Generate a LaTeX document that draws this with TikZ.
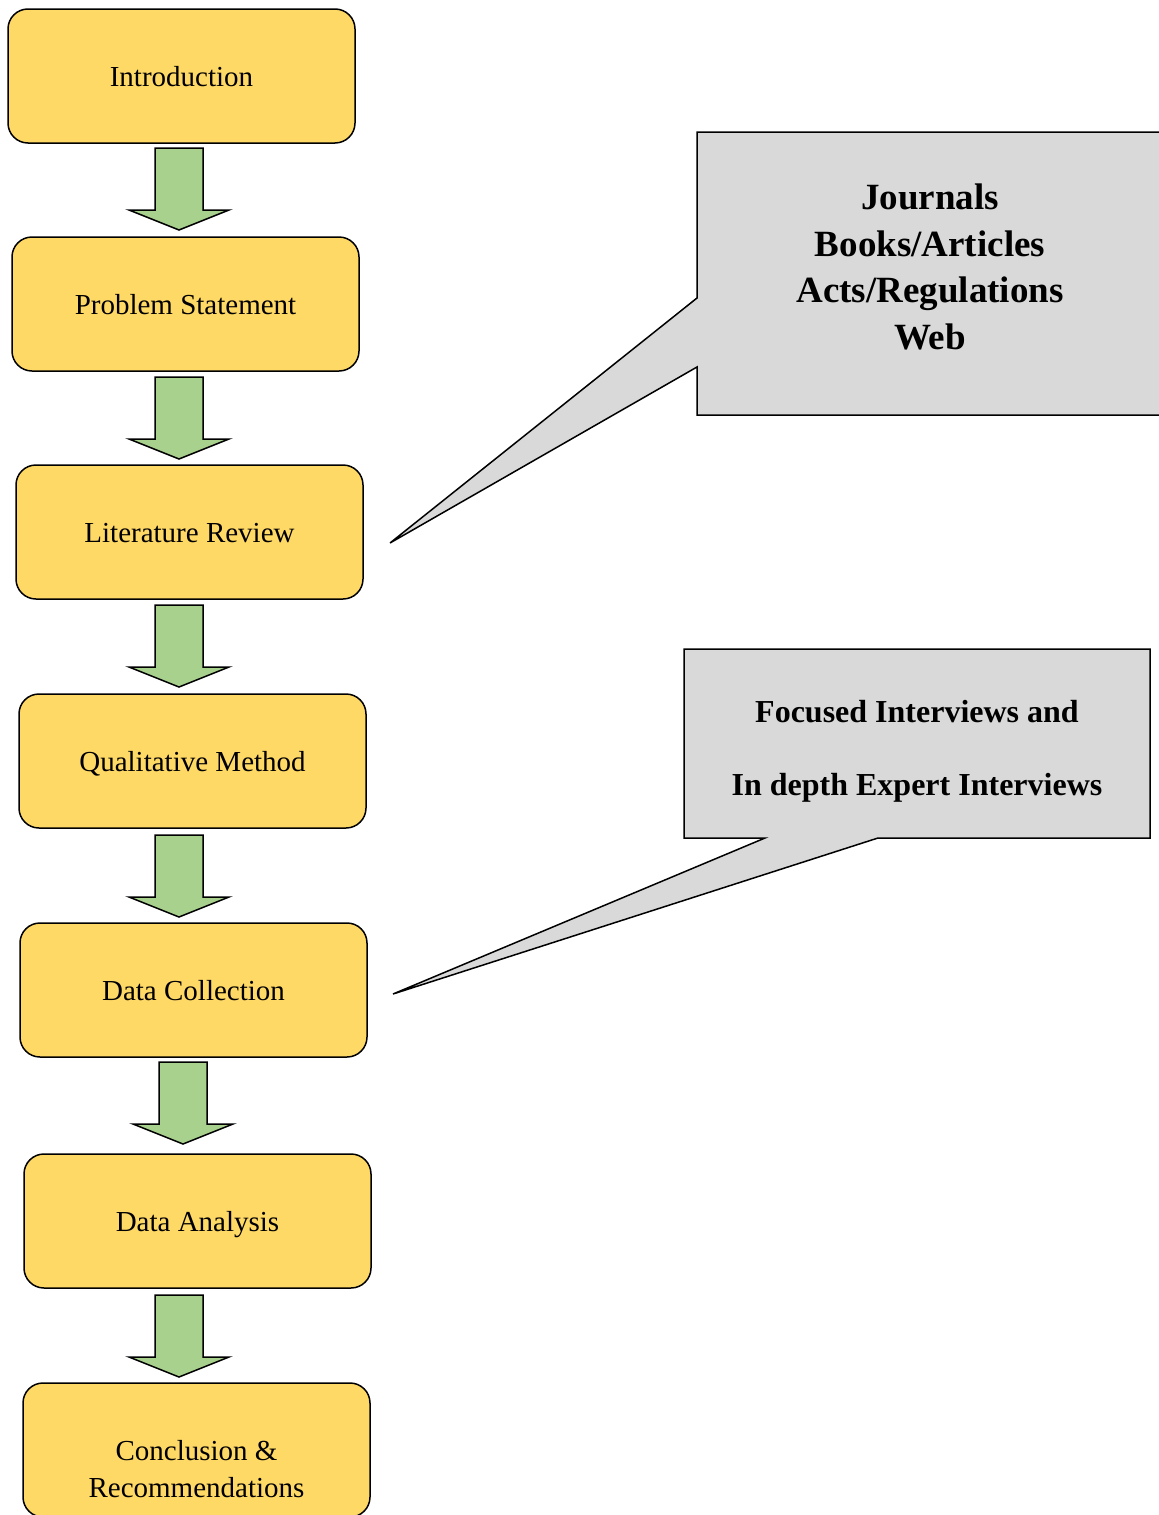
\documentclass[tikz,border=0pt]{standalone}
\usepackage{fontspec}
\setmainfont{Liberation Serif}
\definecolor{boxyellow}{HTML}{FFD966}
\definecolor{arrowgreen}{HTML}{A9D18E}
\definecolor{calloutgray}{HTML}{D9D9D9}
\begin{document}
\begin{tikzpicture}[x=1pt,y=-1pt,
  stepbox/.style={draw, line width=1.5pt, fill=boxyellow, rounded corners=20pt,
    minimum width=347pt, minimum height=134pt, inner sep=0pt,
    text height=20.5pt, text depth=0pt,
    font=\fontsize{29}{37}\selectfont, align=center},
  steptext/.style={inner sep=0pt, font=\fontsize{29}{37}\selectfont, align=center},
  arrowstyle/.style={draw, line width=1.5pt, fill=arrowgreen, line join=miter},
  callout/.style={draw, line width=1.5pt, fill=calloutgray, line join=miter},
  srctext/.style={inner sep=0pt, font=\fontsize{37}{46.5}\selectfont\bfseries, align=center},
  datatext/.style={inner sep=0pt, font=\fontsize{32}{73}\selectfont\bfseries, align=center},
  flowarrow/.pic={\draw[arrowstyle] (-24,0) -- (24,0) -- (24,62) -- (50,62) -- (0,82) -- (-50,62) -- (-24,62) -- cycle;}
]
\useasboundingbox (0,0) rectangle (1159,1515);
\clip (0,0) rectangle (1159,1515);

% steps
\node[stepbox] (intro) at (181.5,76) {Introduction};
\node[stepbox] (prob) at (185.5,304) {Problem Statement};
\node[stepbox] (lit) at (189.5,532) {Literature Review};
\node[stepbox] (qual) at (192.5,761) {Qualitative Method};
\node[stepbox] (coll) at (193.5,990) {Data Collection};
\node[stepbox] (anal) at (197.5,1221) {Data Analysis};
\node[stepbox] (concl) at (196.5,1450) {};
\node[steptext] (concltext) at (196.5,1469) {Conclusion \&\\Recommendations};

% block arrows
\pic (a1) at (179,148) {flowarrow};
\pic (a2) at (179,377) {flowarrow};
\pic (a3) at (179,605) {flowarrow};
\pic (a4) at (179,835) {flowarrow};
\pic (a5) at (183,1062) {flowarrow};
\pic (a6) at (179,1295) {flowarrow};

% callout 1
\coordinate (tip1) at (390,543);
\draw[callout] (697,132) -- (1175,132) -- (1175,415) -- (697,415) -- (697,367) -- (tip1) -- (697,298) -- cycle;
\node[srctext] (sources) at (930,267) {Journals\\Books/Articles\\Acts/Regulations\\Web};

% callout 2
\coordinate (tip2) at (393,994);
\draw[callout] (684,649) -- (1150,649) -- (1150,838) -- (878,838) -- (tip2) -- (765,838) -- (684,838) -- cycle;
\node[datatext] (interviews) at (917,751) {Focused Interviews and\\In depth Expert Interviews};
\end{tikzpicture}
\end{document}
